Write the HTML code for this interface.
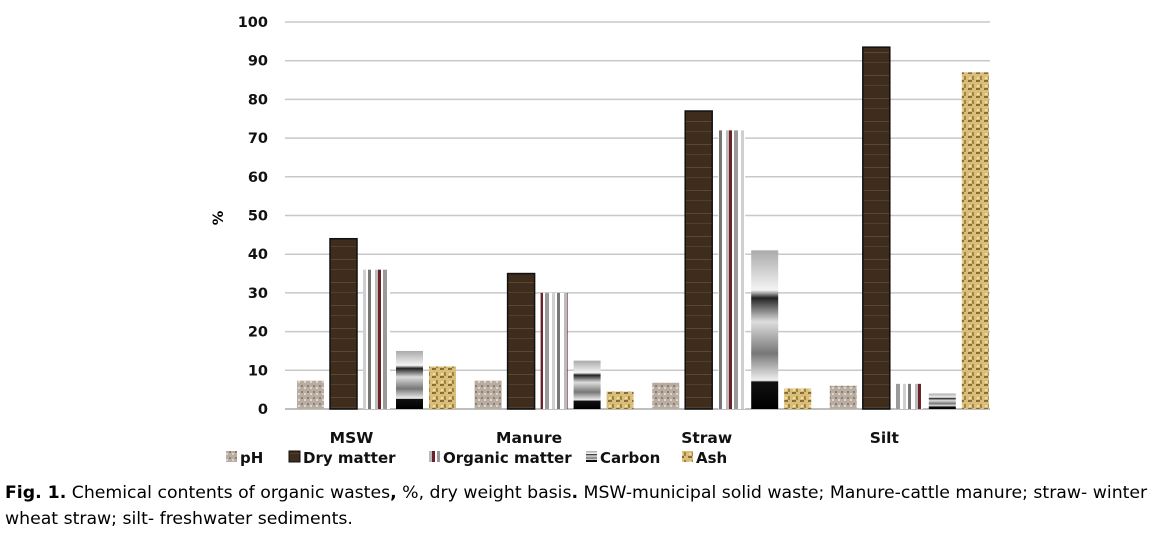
<!DOCTYPE html>
<html><head><meta charset="utf-8"><style>
body{margin:0;background:#fff;width:1156px;height:544px;overflow:hidden;font-family:"DejaVu Sans","Liberation Sans",sans-serif}
#cap{position:absolute;left:5px;top:480px;font-size:17.3px;line-height:26px;color:#000;width:1152px;white-space:nowrap}
</style></head><body>
<svg id="chart" width="1156" height="475" style="position:absolute;left:0;top:0">
<defs>
<pattern id="pH" width="6" height="6" patternUnits="userSpaceOnUse"><rect width="6" height="6" fill="#b9ada2"/><rect x="1" y="1" width="2" height="2" fill="#8e7f74"/><rect x="4" y="3" width="2" height="2" fill="#ddd4cb"/></pattern>
<pattern id="dry" width="27" height="23" patternUnits="userSpaceOnUse"><rect width="27" height="23" fill="#3e2c1d"/><rect y="6" width="27" height="1" fill="#5e4731"/><rect y="16" width="27" height="1" fill="#52402c"/></pattern>
<pattern id="org" width="27" height="10" patternUnits="userSpaceOnUse"><rect width="27" height="10" fill="#fff"/><rect x="0" width="3" height="10" fill="#6e2028"/><rect x="5" width="4" height="10" fill="#9a9a9a"/><rect x="12" width="3" height="10" fill="#cfcfcf"/><rect x="17" width="3" height="10" fill="#777"/><rect x="24" width="3" height="10" fill="#bbb"/></pattern>
<linearGradient id="carb" x1="0" y1="0" x2="0" y2="1"><stop offset="0" stop-color="#aaa"/><stop offset="0.25" stop-color="#f4f4f4"/><stop offset="0.3" stop-color="#222"/><stop offset="0.45" stop-color="#ddd"/><stop offset="0.65" stop-color="#777"/><stop offset="0.82" stop-color="#f0f0f0"/><stop offset="0.83" stop-color="#111"/><stop offset="1" stop-color="#000"/></linearGradient>
<pattern id="ash" width="8" height="8" patternUnits="userSpaceOnUse"><rect width="8" height="8" fill="#d9bd7a"/><rect width="4" height="2" fill="#8a6d35"/><rect x="4" y="4" width="2" height="4" fill="#a2853e"/><rect x="1" y="5" width="2" height="2" fill="#f0dca0"/></pattern>
</defs>
<g id="grid"></g><g id="bars"></g><g id="labels"></g><g id="legend"></g>
</svg>
<div id="cap"><b>Fig. 1.</b> Chemical contents of organic wastes<b>,</b> %, dry weight basis<b>.</b> MSW-municipal solid waste; Manure-cattle manure; straw- winter<br>wheat straw; silt- freshwater sediments.</div>
<script>
const categories=["MSW","Manure","Straw","Silt"];
const seriesNames=["pH","Dry matter","Organic matter","Carbon","Ash"];
const phVals=[7.3,7.3,6.8,6];
const dryVals=[44,35,77,93.5];
const orgVals=[36,30,72,6.5];
const carbonVals=[15,12.5,41,4];
const ashVals=[11,4.5,5.3,87];
const yTicks=[0,10,20,30,40,50,60,70,80,90,100];
const NS="http://www.w3.org/2000/svg";
const x0=285,x1=990,yB=409,yT=22;
const y=v=>yB-(v/100)*(yB-yT);
const gw=177.6;
function mk(t,a,p){const e=document.createElementNS(NS,t);for(const k in a)e.setAttribute(k,a[k]);p.appendChild(e);return e;}
const grid=document.getElementById('grid'),bars=document.getElementById('bars'),lab=document.getElementById('labels'),leg=document.getElementById('legend');
yTicks.forEach(t=>{
 const l=mk('line',{x1:x0,x2:x1,y1:y(t),y2:y(t),stroke:t===0?'#aaa':'#c8c8c8','stroke-width':1.5},grid);
 
 
 const tx=mk('text',{x:268,y:y(t)+5,'text-anchor':'end','font-size':14.5,'font-weight':'bold',fill:'#111'},lab);
 tx.textContent=t;
 
 
});
const yt=mk('text',{x:223,y:218,'text-anchor':'middle','font-size':14.5,'font-weight':'bold',transform:'rotate(-90 223 218)'},lab);
yt.textContent='%';


const all=[phVals,dryVals,orgVals,carbonVals,ashVals];
const fills=['url(#pH)','url(#dry)','url(#org)','url(#carb)','url(#ash)'];
const bw=27,step=33;
categories.forEach((c,i)=>{
 const gs=x0+i*gw+12;
 all.forEach((arr,s)=>{
  const v=arr[i];
  const r=mk('rect',{x:gs+s*step,y:y(v),width:bw,height:yB-y(v),fill:fills[s],stroke:s===1?'#111':'none','stroke-width':1.5},bars);
  
  
 });
 const t=mk('text',{x:gs+step*2+bw/2-25,y:443,'text-anchor':'middle','font-size':15.5,'font-weight':'bold',fill:'#111'},lab);
 t.textContent=c;
 
 
});
const lx=[[226,240],[289,303],[429,443],[586,600],[682,696]];
seriesNames.forEach((n,s)=>{
 const g=mk('g',{},leg);
 
 
 mk('rect',{x:lx[s][0],y:451,width:11,height:11,fill:fills[s],stroke:s===1?'#111':'none'},g);
 const t=mk('text',{x:lx[s][1],y:463,'font-size':15,'font-weight':'bold',fill:'#111'},g);
 t.textContent=n;
});
</script>
</body></html>
